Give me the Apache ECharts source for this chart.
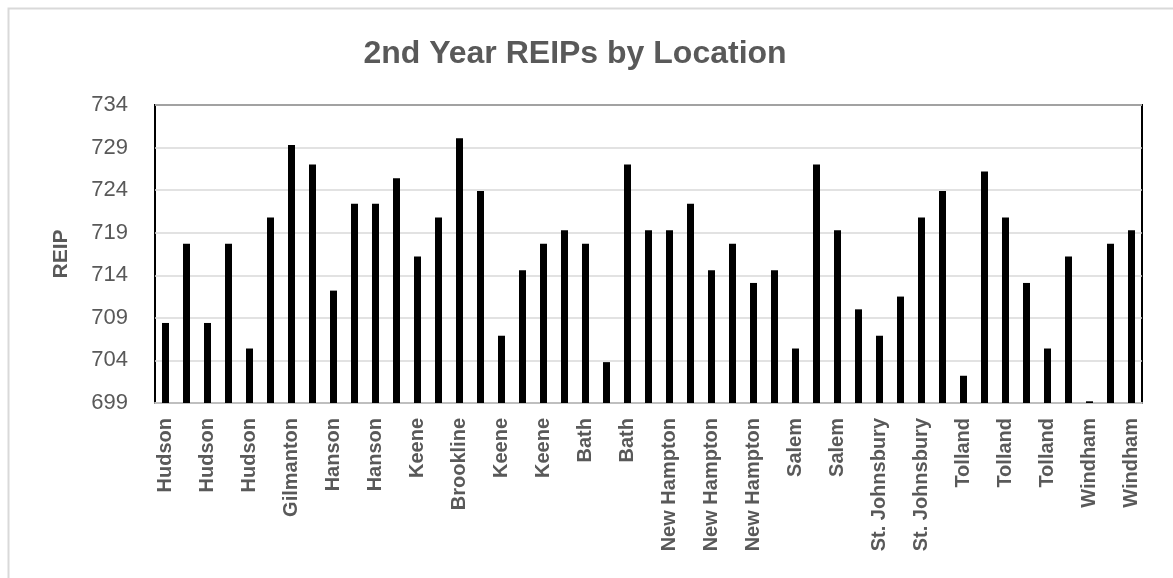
<!DOCTYPE html>
<html>
<head>
<meta charset="utf-8">
<title>2nd Year REIPs by Location</title>
<script src="https://cdn.jsdelivr.net/npm/echarts@6/dist/echarts.min.js"></script>
<style>
  html, body { margin: 0; padding: 0; background: #fff; }
  #main { width: 1173px; height: 578px; }
</style>
</head>
<body>
<div id="main"></div>
<script>
// location names, one per bar (only every other one is shown on the axis)
var locations = [
  'Hudson', 'Hudson', 'Hudson', 'Hudson', 'Hudson', 'Hudson',
  'Gilmanton', 'Gilmanton', 'Hanson', 'Hanson', 'Hanson', 'Hanson',
  'Keene', 'Keene', 'Brookline', 'Brookline', 'Keene', 'Keene',
  'Keene', 'Keene', 'Bath', 'Bath', 'Bath', 'Bath',
  'New Hampton', 'New Hampton', 'New Hampton', 'New Hampton', 'New Hampton', 'New Hampton',
  'Salem', 'Salem', 'Salem', 'Salem', 'St. Johnsbury', 'St. Johnsbury',
  'St. Johnsbury', 'St. Johnsbury', 'Tolland', 'Tolland', 'Tolland', 'Tolland',
  'Tolland', 'Tolland', 'Windham', 'Windham', 'Windham'
];

// REIP per sample
var reip = [
  708.4, 717.7, 708.4, 717.7, 705.4, 720.8, 729.3, 727.0, 712.2, 722.4,
  722.4, 725.4, 716.2, 720.8, 730.1, 723.9, 706.9, 714.6, 717.7, 719.3,
  717.7, 703.8, 727.0, 719.3, 719.3, 722.4, 714.6, 717.7, 713.1, 714.6,
  705.4, 727.0, 719.3, 710.0, 706.9, 711.5, 720.8, 723.9, 702.2, 726.2,
  720.8, 713.1, 705.4, 716.2, 699.2, 717.7, 719.3
];

var yMin = 699, yMax = 734, yStep = 5;

var myChart = echarts.init(document.getElementById('main'));

var option = {
    backgroundColor: '#fff',
    animation: false,
    title: {
        text: '2nd Year REIPs by Location',
        left: 570,
        textAlign: 'center',
        top: 33,
        textStyle: {
            fontFamily: 'Liberation Sans',
            fontSize: 32,
            fontWeight: 'bold',
            color: '#595959'
        }
    },
    // light outer frame of the chart area
    graphic: [{
        type: 'rect',
        left: 6,
        top: 6,
        shape: { width: 1300, height: 700 },
        style: { fill: 'none', stroke: '#d9d9d9', lineWidth: 2 },
        silent: true
    }],
    grid: {
        left: 155,
        right: 31,
        top: 105,
        bottom: 175,
        show: true,
        borderColor: '#000',
        borderWidth: 2,
        containLabel: false
    },
    xAxis: {
        type: 'category',
        data: locations,
        axisLine: { lineStyle: { color: '#bfbfbf', width: 2 } },
        axisTick: { show: false },
        axisLabel: {
            interval: 1,
            rotate: 90,
            margin: 15,
            fontFamily: 'Liberation Sans',
            fontSize: 20,
            fontWeight: 'bold',
            color: '#595959'
        }
    },
    yAxis: {
        type: 'value',
        name: 'REIP',
        nameLocation: 'middle',
        nameGap: 83,
        nameTextStyle: {
            fontFamily: 'Liberation Sans',
            fontSize: 21,
            fontWeight: 'bold',
            color: '#595959'
        },
        min: yMin,
        max: yMax,
        interval: yStep,
        axisLine: { show: false },
        axisTick: { show: false },
        axisLabel: {
            margin: 27,
            fontFamily: 'Liberation Sans',
            fontSize: 22,
            color: '#595959'
        },
        splitLine: { lineStyle: { color: '#d9d9d9', width: 1.5 } }
    },
    series: [{
        type: 'bar',
        data: reip,
        barWidth: 7,
        itemStyle: { color: '#000' }
    }]
};

myChart.setOption(option);
</script>
</body>
</html>
